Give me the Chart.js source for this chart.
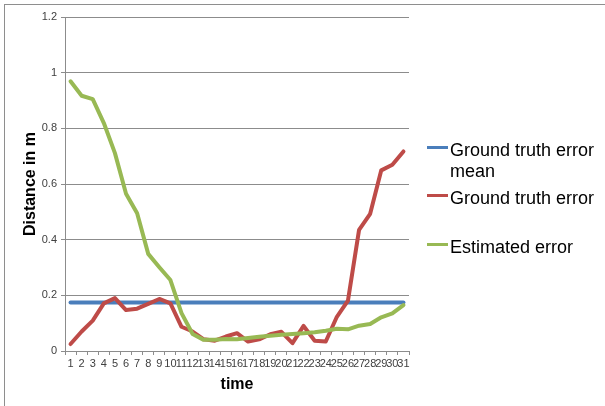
<!DOCTYPE html>
<html>
<head>
<meta charset="utf-8">
<script src="https://cdn.jsdelivr.net/npm/chart.js@4/dist/chart.umd.min.js"></script>
<style>
  html, body { margin: 0; padding: 0; background: #fff; }
  #wrap { position: relative; width: 605px; height: 406px; overflow: hidden; }
  #frame { position: absolute; left: 4px; top: 4px; width: 700px; height: 500px;
           border-top: 1px solid #8e8e8e; border-left: 1px solid #8e8e8e; }
  #chart { position: absolute; left: 0; top: 0; }
  #legend { position: absolute; left: 427px; top: 0; width: 178px; height: 406px;
            font-family: 'Liberation Sans', Arial, sans-serif; font-size: 18px;
            line-height: 21px; color: #000; }
  .item { position: absolute; left: 0; width: 178px; }
  .swatch { position: absolute; left: 0; top: 6px; width: 21px; height: 3px; }
  .text { position: absolute; left: 23px; top: 0; width: 152px; }
</style>
</head>
<body>
<div id="wrap">
  <div id="frame"></div>
  <canvas id="chart" width="605" height="406"></canvas>
  <div id="legend"></div>
</div>
<script>
// Time steps on the x axis
const timeLabels = ['1','2','3','4','5','6','7','8','9','10','11','12','13','14','15','16',
                    '17','18','19','20','21','22','23','24','25','26','27','28','29','30','31'];

// Mean of the ground truth error (constant over time)
const meanError = [0.174,0.174,0.174,0.174,0.174,0.174,0.174,0.174,0.174,0.174,0.174,
                   0.174,0.174,0.174,0.174,0.174,0.174,0.174,0.174,0.174,0.174,0.174,
                   0.174,0.174,0.174,0.174,0.174,0.174,0.174,0.174,0.174];

// Ground truth error per time step (m)
const groundTruthError = [0.025,0.070,0.109,0.171,0.190,0.147,0.152,0.169,0.187,0.171,
                          0.087,0.070,0.042,0.037,0.052,0.064,0.034,0.042,0.060,0.069,
                          0.028,0.090,0.037,0.034,0.123,0.181,0.435,0.493,0.649,0.669,0.717];

// Estimated error per time step (m)
const estimatedError = [0.969,0.917,0.905,0.819,0.711,0.565,0.495,0.349,0.301,0.255,
                        0.136,0.061,0.040,0.040,0.043,0.042,0.047,0.051,0.055,0.058,
                        0.061,0.064,0.067,0.073,0.080,0.078,0.091,0.097,0.121,0.135,0.165];

const seriesNames = ['Ground truth error mean', 'Ground truth error', 'Estimated error'];
const seriesColors = ['#4a7ebb', '#be4b48', '#98b954'];

const FONT = "'Liberation Sans', Arial, sans-serif";
const GRID = '#8c8c8c';
const TICK_TEXT = '#404040';

function lineSet(i, data, order) {
  return {
    label: seriesNames[i],
    data: data,
    borderColor: seriesColors[i],
    backgroundColor: seriesColors[i],
    borderWidth: 4,
    pointRadius: 0,
    pointHoverRadius: 0,
    tension: 0,
    fill: false,
    borderJoinStyle: 'round',
    borderCapStyle: 'round',
    order: order
  };
}

const chart = new Chart(document.getElementById('chart'), {
  type: 'line',
  data: {
    labels: timeLabels,
    datasets: [
      lineSet(0, meanError, 3),
      lineSet(1, groundTruthError, 2),
      lineSet(2, estimatedError, 1)
    ]
  },
  options: {
    responsive: false,
    animation: false,
    devicePixelRatio: 1,
    layout: { padding: { left: 0, right: 196, top: 17, bottom: 0 } },
    plugins: {
      legend: { display: false },
      tooltip: { enabled: false }
    },
    scales: {
      x: {
        type: 'category',
        offset: true,
        grid: { offset: true, drawOnChartArea: false, drawTicks: true, tickLength: 4,
                color: GRID, lineWidth: 1 },
        border: { color: GRID, width: 1 },
        ticks: { autoSkip: false, maxRotation: 0, minRotation: 0, padding: 2,
                 color: TICK_TEXT, font: { family: FONT, size: 11 } },
        title: { display: true, text: 'time', color: '#000',
                 font: { family: FONT, size: 16, weight: 'bold' },
                 padding: { top: 0, bottom: 12 } },
        afterFit: (s) => { s.height = 55; }
      },
      y: {
        min: 0,
        max: 1.2,
        grid: { color: GRID, lineWidth: 1, tickLength: 4, drawTicks: true },
        border: { color: GRID, width: 1 },
        ticks: { stepSize: 0.2, padding: 4, color: TICK_TEXT,
                 font: { family: FONT, size: 11 },
                 callback: (v) => String(Number(v.toFixed(1))) },
        title: { display: true, text: 'Distance in m', color: '#000',
                 font: { family: FONT, size: 16, weight: 'bold' },
                 padding: { top: 21, bottom: 0 } },
        afterFit: (s) => { s.width = 65; }
      }
    }
  }
});

// Legend built from the chart's own datasets, to the right of the plot
const legendTops = [140, 188, 237];
const legendEl = document.getElementById('legend');
chart.data.datasets.forEach((ds, i) => {
  const item = document.createElement('div');
  item.className = 'item';
  item.style.top = legendTops[i] + 'px';
  const sw = document.createElement('div');
  sw.className = 'swatch';
  sw.style.background = ds.borderColor;
  const tx = document.createElement('div');
  tx.className = 'text';
  tx.textContent = ds.label;
  item.appendChild(sw);
  item.appendChild(tx);
  legendEl.appendChild(item);
});
</script>
</body>
</html>
